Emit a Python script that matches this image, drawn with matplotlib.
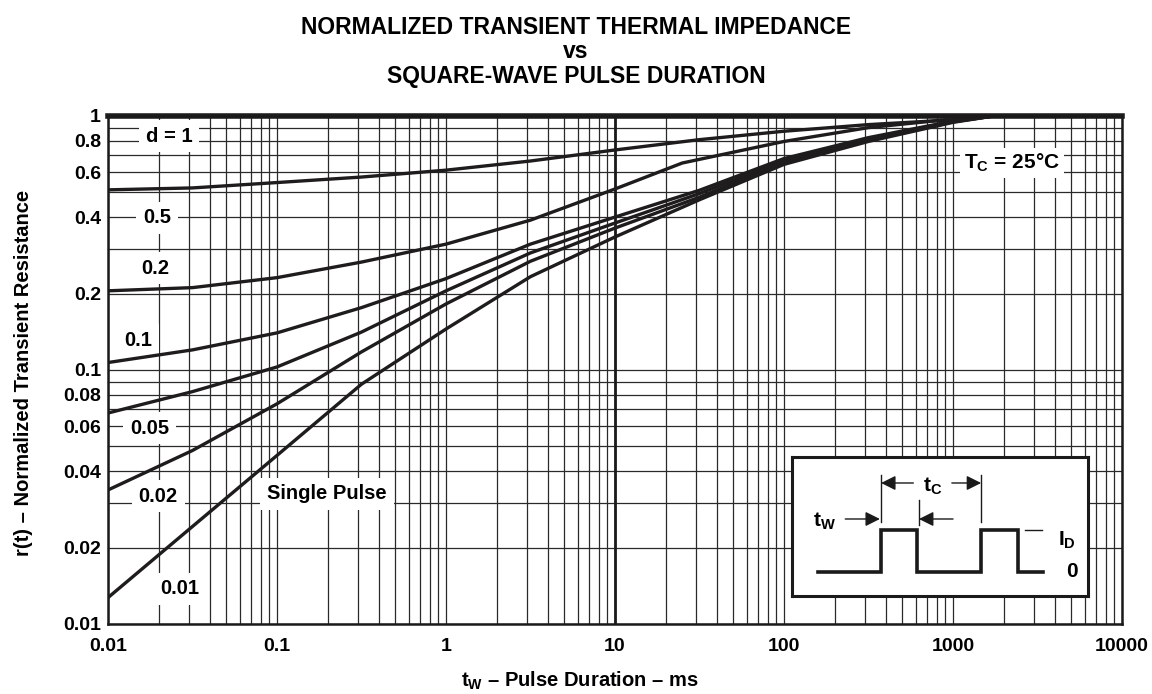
import numpy as np
import matplotlib
matplotlib.use('Agg')
import matplotlib.pyplot as plt
from matplotlib.ticker import NullFormatter, LogLocator

plt.rcParams['font.family'] = ['Liberation Sans', 'DejaVu Sans']
plt.rcParams['font.weight'] = 'bold'
plt.rcParams['mathtext.fontset'] = 'custom'
plt.rcParams['mathtext.rm'] = 'Liberation Sans:bold'
plt.rcParams['mathtext.it'] = 'Liberation Sans:bold'
plt.rcParams['mathtext.bf'] = 'Liberation Sans:bold'

# pulse duration (ms) and normalized r(t)
tw_d05 = [0.01, 0.0316, 0.1, 0.316, 1, 3.16, 10, 31.6, 100, 316, 1000, 1740]
r_d05 = [0.512, 0.521, 0.547, 0.575, 0.612, 0.665, 0.735, 0.807, 0.871, 0.925, 0.966, 1.0]

tw_d02 = [0.01, 0.0316, 0.1, 0.316, 1, 3.16, 10, 25, 100, 316, 1000, 1740]
r_d02 = [0.205, 0.211, 0.231, 0.266, 0.313, 0.389, 0.516, 0.653, 0.794, 0.90, 0.973, 1.0]

tw_d01 = [0.01, 0.0316, 0.1, 0.316, 1, 3.16, 10, 31.6, 100, 316, 1000, 1740]
r_d01 = [0.107, 0.12, 0.14, 0.176, 0.229, 0.313, 0.40, 0.51, 0.68, 0.822, 0.955, 1.0]

tw_d005 = [0.01, 0.0316, 0.1, 0.316, 1, 3.16, 10, 31.6, 100, 316, 1000, 1740]
r_d005 = [0.0677, 0.0822, 0.1028, 0.141, 0.205, 0.289, 0.379, 0.495, 0.667, 0.81, 0.951, 1.0]

tw_d002 = [0.01, 0.0316, 0.1, 0.316, 1, 3.16, 10, 31.6, 100, 316, 1000, 1740]
r_d002 = [0.0337, 0.0482, 0.0736, 0.1178, 0.182, 0.268, 0.362, 0.479, 0.658, 0.80, 0.948, 1.0]

tw_single = [0.01, 0.0316, 0.1, 0.316, 1, 3.16, 10, 31.6, 100, 316, 1000, 1740]
r_single = [0.0127, 0.0242, 0.0461, 0.0879, 0.145, 0.233, 0.334, 0.468, 0.645, 0.794, 0.944, 1.0]

tw_d1 = [0.01, 10000]
r_d1 = [1.0, 1.0]

curves = [(tw_d05, r_d05), (tw_d02, r_d02), (tw_d01, r_d01),
          (tw_d005, r_d005), (tw_d002, r_d002), (tw_single, r_single)]

x_ticks = [0.01, 0.1, 1, 10, 100, 1000, 10000]
x_ticklabels = ['0.01', '0.1', '1', '10', '100', '1000', '10000']
y_ticks = [0.01, 0.02, 0.04, 0.06, 0.08, 0.1, 0.2, 0.4, 0.6, 0.8, 1]
y_ticklabels = ['0.01', '0.02', '0.04', '0.06', '0.08', '0.1', '0.2', '0.4', '0.6', '0.8', '1']

# curve labels: (text, t, r)
curve_labels = [('d = 1', 0.023, 0.834), ('0.5', 0.0195, 0.397), ('0.2', 0.019, 0.252),
                ('0.1', 0.0151, 0.131), ('0.05', 0.0177, 0.0591), ('0.02', 0.0198, 0.0319),
                ('Single Pulse', 0.198, 0.0325), ('0.01', 0.0267, 0.01374)]

fig = plt.figure(figsize=(11.52, 6.94), dpi=100)
ax = fig.add_axes([108/1152, 1 - 624/694, 1014/1152, 508/694])
ax.set_xscale('log')
ax.set_yscale('log')
ax.set_xlim(0.01, 10000)
ax.set_ylim(0.01, 1)

ax.xaxis.set_minor_locator(LogLocator(base=10, subs=np.arange(2, 10)))
ax.yaxis.set_minor_locator(LogLocator(base=10, subs=np.arange(2, 10)))
ax.xaxis.set_minor_formatter(NullFormatter())
ax.yaxis.set_minor_formatter(NullFormatter())
ax.set_xticks(x_ticks)
ax.set_xticklabels(x_ticklabels)
ax.set_yticks(y_ticks)
ax.set_yticklabels(y_ticklabels)
ax.tick_params(which='both', length=0)
ax.tick_params(axis='x', labelsize=14, pad=10)
ax.tick_params(axis='y', labelsize=14, pad=5)

ax.set_axisbelow(True)
ax.grid(True, which='both', color='#2a2a2a', lw=0.9)
ax.axvline(10, color='#1a1a1a', lw=2.0, zorder=0.6)

for sp in ax.spines.values():
    sp.set_linewidth(1.8)
    sp.set_color('#1a1a1a')

for tw, r in curves:
    ax.plot(tw, r, color='#1e1c1c', lw=2.4, zorder=2, solid_capstyle='butt')
ax.plot(tw_d1, r_d1, color='#1e1c1c', lw=4, zorder=2, clip_on=False)

for txt, t, r in curve_labels:
    ax.text(t, r, txt, ha='center', va='center', fontsize=14.5, fontweight='bold', zorder=1,
            bbox=dict(facecolor='white', edgecolor='none', pad=5))
ax.text(2234, 0.653, r'T$_\mathrm{C}$ = 25°C', ha='center', va='center', fontsize=15,
        zorder=1, bbox=dict(facecolor='white', edgecolor='none', pad=3))

fig.text(0.5, 1 - 27/694, 'NORMALIZED TRANSIENT THERMAL IMPEDANCE', ha='center', va='center', fontsize=16.5)
fig.text(0.5, 1 - 52/694, 'vs', ha='center', va='center', fontsize=16.5)
fig.text(0.5, 1 - 77/694, 'SQUARE-WAVE PULSE DURATION', ha='center', va='center', fontsize=16.5)

fig.text(580/1152, 1 - 681/694, r'$\mathrm{t_W}$ – Pulse Duration – ms', ha='center', va='center', fontsize=14.5)
fig.text(24/1152, 1 - 373/694, 'r(t) – Normalized Transient Resistance', ha='center', va='center',
         rotation=90, fontsize=14.5)

# inset: pulse waveform sketch
ins = fig.add_axes([792/1152, 1 - 596/694, 296/1152, 139/694])
ins.set_xlim(0, 1)
ins.set_ylim(0, 1)
ins.set_xticks([])
ins.set_yticks([])
ins.set_facecolor('white')
for sp in ins.spines.values():
    sp.set_linewidth(2.2)
    sp.set_color('#1a1a1a')
lo, hi = 0.173, 0.475
wave_x = [0.088, 0.301, 0.301, 0.422, 0.422, 0.639, 0.639, 0.764, 0.764, 0.848]
wave_y = [lo, lo, hi, hi, lo, lo, hi, hi, lo, lo]
ins.plot(wave_x, wave_y, color='#1a1a1a', lw=2.6, solid_joinstyle='miter')
ins.plot([0.787, 0.845], [hi, hi], color='#1a1a1a', lw=1)
ins.text(0.93, 0.40, r'I$_\mathrm{D}$', ha='center', va='center', fontsize=15)
ins.text(0.946, 0.173, '0', ha='center', va='center', fontsize=15)
ins.plot([0.301, 0.301], [0.532, 0.871], color='#1a1a1a', lw=1)
ins.plot([0.639, 0.639], [0.532, 0.871], color='#1a1a1a', lw=1)
ins.plot([0.429, 0.429], [0.51, 0.69], color='#1a1a1a', lw=1)
ap = dict(arrowstyle='-|>', color='#1a1a1a', lw=1, mutation_scale=22, shrinkA=0, shrinkB=0)
ins.annotate('', xy=(0.301, 0.813), xytext=(0.41, 0.813), arrowprops=ap)
ins.annotate('', xy=(0.639, 0.813), xytext=(0.54, 0.813), arrowprops=ap)
ins.annotate('', xy=(0.297, 0.554), xytext=(0.18, 0.554), arrowprops=ap)
ins.annotate('', xy=(0.429, 0.554), xytext=(0.544, 0.554), arrowprops=ap)
ins.text(0.475, 0.79, r't$_\mathrm{C}$', ha='center', va='center', fontsize=15)
ins.text(0.11, 0.54, r't$_\mathrm{W}$', ha='center', va='center', fontsize=15)

fig.savefig('out.png', dpi=100)
